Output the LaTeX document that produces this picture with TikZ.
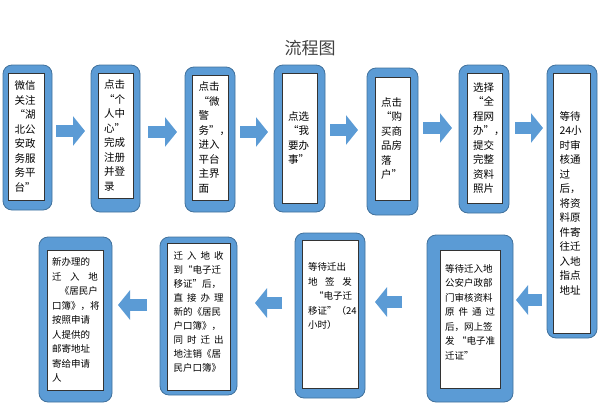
\documentclass[tikz,border=0pt]{standalone}
\usepackage{fontspec}
\setmainfont{Noto Sans CJK SC}
\usepackage{tikz}
\usetikzlibrary{arrows.meta}
\definecolor{stepblue}{HTML}{5B9BD5}
\definecolor{stepedge}{HTML}{41719C}
\tikzset{
    outerbox/.style={draw=stepedge, fill=stepblue, line width=0.8pt, rounded corners=9pt, inner sep=0pt, outer sep=0pt},
    innerbox/.style={draw=black!80, fill=white, line width=0.6pt, inner sep=0pt, outer sep=0pt, text width=23pt, align=left, font=\fontsize{10.5}{14.5}\selectfont},
    lowbox/.style={innerbox, font=\fontsize{9.5}{14.5}\selectfont},
    lowtext/.style={inner sep=0pt, align=left, font=\fontsize{9.5}{14.5}\selectfont},
    bigarrow/.style={draw=stepblue, line width=12pt, -{Triangle[length=12pt, width=29pt]}},
}

\begin{document}
\begin{tikzpicture}[x=1pt, y=-1pt]
    \useasboundingbox (0,0) rectangle (600,405);
    \node[font=\fontsize{17}{20}\selectfont, text=black!75] (title) at (310,48) {流程图};

    \node[outerbox, minimum width=49pt, minimum height=145pt] (b1) at (27.5,137.5) {};
    \node[innerbox, minimum width=36pt, minimum height=127pt] (t1) at (26,136.5)
        {微信\\关注\\“湖\\北公\\安政\\务服\\务平\\台”};
    \node[outerbox, minimum width=49pt, minimum height=147pt] (b2) at (115.5,138.5) {};
    \node[innerbox, minimum width=35pt, minimum height=125pt] (t2) at (115.5,135.5)
        {点击\\“个\\人中\\心”\\完成\\注册\\并登\\录};
    \node[outerbox, minimum width=50pt, minimum height=145pt] (b3) at (210,139.5) {};
    \node[innerbox, minimum width=36pt, minimum height=125pt] (t3) at (210,137.5)
        {点击\\“微\\警\\务”，\\进入\\平台\\主界\\面};
    \node[outerbox, minimum width=51pt, minimum height=147pt] (b4) at (299.5,138.5) {};
    \node[innerbox, minimum width=35pt, minimum height=130pt] (t4) at (299.5,138)
        {点选\\“我\\要办\\事”};
    \node[outerbox, minimum width=51pt, minimum height=147pt] (b5) at (392.5,141.5) {};
    \node[innerbox, minimum width=35pt, minimum height=123pt] (t5) at (392.5,138.5)
        {点击\\“购\\买商\\品房\\落\\户”};
    \node[outerbox, minimum width=50pt, minimum height=148pt] (b6) at (484,139) {};
    \node[innerbox, minimum width=35pt, minimum height=130pt] (t6) at (484.5,138)
        {选择\\“全\\程网\\办”，\\提交\\完整\\资料\\照片};
    \node[outerbox, minimum width=50pt, minimum height=273pt] (b7) at (572,201.5) {};
    \node[innerbox, text width=24pt, minimum width=37pt, minimum height=260pt] (t7) at (571.5,203)
        {等待\\24小\\时审\\核通\\过\\后，\\将资\\料原\\件寄\\往迁\\入地\\指点\\地址};

    \node[outerbox, minimum width=86pt, minimum height=167pt] (b8) at (470,318.5) {};
    \node[lowbox, minimum width=60pt, minimum height=138pt] (t8) at (470,319) {};
    \node[lowtext, text width=50pt] (w8) at (470,312)
        {等待迁入地\\公安户政部\\门审核资料\\原\hfill 件\hfill 通\hfill 过\\后，网上签\\发\hfill “电子准\\迁证”};
    \node[outerbox, minimum width=70pt, minimum height=165pt] (b9) at (330,315.5) {};
    \node[lowbox, minimum width=56pt, minimum height=148pt] (t9) at (330,314) {};
    \node[lowtext, text width=44pt] (w9) at (330,296)
        {等待迁出\\地\hfill 签\hfill 发\\\hfill“电子迁\\移证”（24\\小时）};
    \node[outerbox, minimum width=77pt, minimum height=158pt] (b10) at (198.5,316) {};
    \node[lowbox, minimum width=63pt, minimum height=147pt] (t10) at (198.5,316.5) {};
    \node[lowtext, text width=50pt, font=\fontsize{9.5}{14}\selectfont] (w10) at (198.5,312)
        {迁\hfill 入\hfill 地\hfill 收\\到“电子迁\\移证”后，\\直\hfill 接\hfill 办\hfill 理\\新的《居民\\户口簿》，\\同\hfill 时\hfill 迁\hfill 出\\地注销《居\\民户口簿》};
    \node[outerbox, minimum width=73pt, minimum height=165pt] (b11) at (75.5,319.5) {};
    \node[lowbox, text width=46pt, minimum width=56pt, minimum height=140pt] (t11) at (75,320)
        {新办理的\\迁\hfill 入\hfill 地\\\hfill《居民户\\口簿》，将\\按照申请\\人提供的\\邮寄地址\\寄给申请\\人};

    \draw[bigarrow] (b1.east |- 0,131) ++(4,0) -- ([xshift=-6pt]b2.west |- 0,131);
    \draw[bigarrow] (b2.east |- 0,132) ++(8,0) -- ([xshift=-8pt]b3.west |- 0,132);
    \draw[bigarrow] (b3.east |- 0,132) ++(5,0) -- ([xshift=-6pt]b4.west |- 0,132);
    \draw[bigarrow] (b4.east |- 0,130) ++(5,0) -- ([xshift=-9pt]b5.west |- 0,130);
    \draw[bigarrow] (b5.east |- 0,128) ++(5,0) -- ([xshift=-7pt]b6.west |- 0,128);
    \draw[bigarrow] (b6.east |- 0,128) ++(6,0) -- ([xshift=-4pt]b7.west |- 0,128);
    \draw[bigarrow] (b7.west |- 0,300) ++(-5,0) -- ([xshift=3pt]b8.east |- 0,300);
    \draw[bigarrow] (b8.west |- 0,302) ++(-25,0) -- ([xshift=10pt]b9.east |- 0,302);
    \draw[bigarrow] (b9.west |- 0,303) ++(-13,0) -- ([xshift=18pt]b10.east |- 0,303);
    \draw[bigarrow] (b10.west |- 0,305) ++(-13,0) -- ([xshift=6pt]b11.east |- 0,305);
\end{tikzpicture}
\end{document}
